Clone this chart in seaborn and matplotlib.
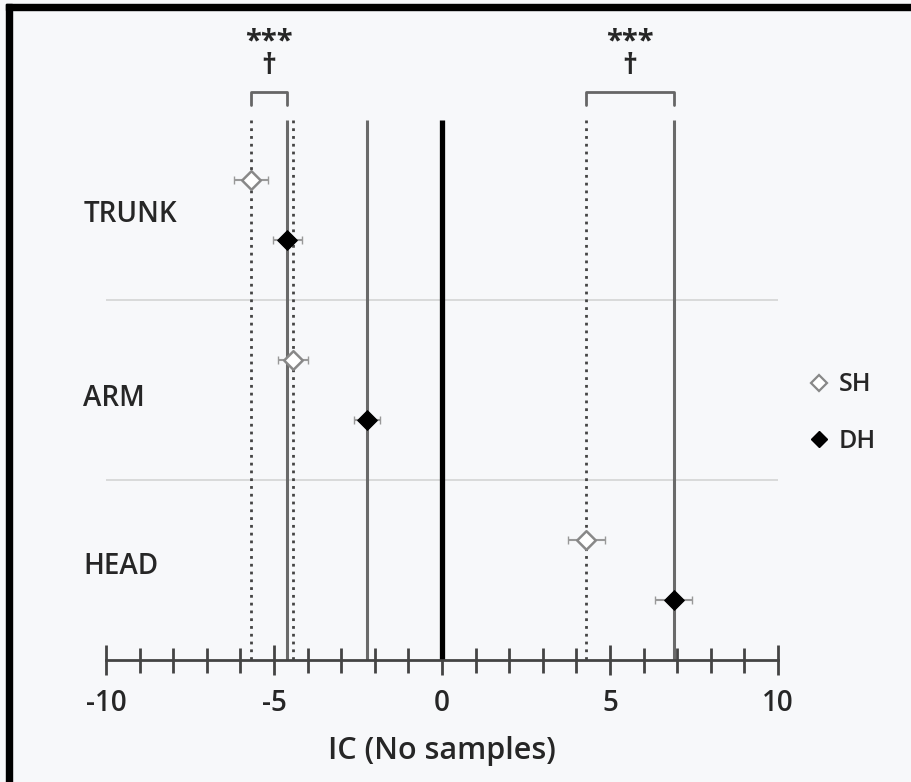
import matplotlib
matplotlib.use("Agg")
import matplotlib.pyplot as plt
import seaborn as sns
import pandas as pd
from matplotlib.patches import Rectangle
from matplotlib.lines import Line2D

regions = ["TRUNK", "ARM", "HEAD"]
groups = ["SH", "DH"]
sh_mean = [-5.68, -4.43, 4.29]
sh_err = [0.50, 0.45, 0.55]
dh_mean = [-4.61, -2.23, 6.90]
dh_err = [0.43, 0.38, 0.55]
sig_label = "***\n\u2020"

rows = []
for i, region in enumerate(regions):
    rows.append({"region": region, "group": "SH", "mean": sh_mean[i], "err": sh_err[i], "ypos": 3 * i})
    rows.append({"region": region, "group": "DH", "mean": dh_mean[i], "err": dh_err[i], "ypos": 3 * i + 1})
df = pd.DataFrame(rows)
sh = df[df["group"] == "SH"]
dh = df[df["group"] == "DH"]

sns.set_style("white")
plt.rcParams["font.family"] = ["Open Sans", "DejaVu Sans"]
bg = "#f7f8fa"

fig = plt.figure(figsize=(9.11, 7.82), dpi=100, facecolor=bg)
ax = fig.add_axes([106 / 911, 122 / 782, 672 / 911, 600 / 782])
ax.set_facecolor(bg)
ax.set_xlim(-10, 10)
ax.set_ylim(8, -2)

# group separators
ax.hlines([2, 5], -10, 10, color="#d4d4d4", lw=1.2, zorder=1)

# mean lines
ax.vlines(sh["mean"], -1, 8, color="#444444", lw=2, linestyles=(0, (1, 1.8)), zorder=2)
ax.vlines(dh["mean"], -1, 8, color="#6a6a6a", lw=2.2, zorder=2)
ax.vlines([0], -1, 8, color="black", lw=3.8, zorder=2)

# error bars
ax.errorbar(sh["mean"], sh["ypos"], xerr=sh["err"], fmt="none", ecolor="#999999", elinewidth=1.5, capsize=3, zorder=3)
ax.errorbar(dh["mean"], dh["ypos"], xerr=dh["err"], fmt="none", ecolor="#999999", elinewidth=1.5, capsize=3, zorder=3)

sns.scatterplot(data=sh, x="mean", y="ypos", marker="D", s=90, color="white", edgecolor="#888888", linewidth=1.8, ax=ax, zorder=4)
sns.scatterplot(data=dh, x="mean", y="ypos", marker="D", s=100, color="black", edgecolor="black", ax=ax, zorder=4)

# significance brackets
for a, b in [(sh_mean[0], dh_mean[0]), (sh_mean[2], dh_mean[2])]:
    ax.plot([a, a, b, b], [-1.25, -1.47, -1.47, -1.25], color="#666666", lw=2, clip_on=False, solid_joinstyle="round")
    ax.text((a + b) / 2, -1.77, sig_label, ha="center", va="baseline", multialignment="center",
            linespacing=0.8, fontsize=21, fontweight="bold", clip_on=False)

# region labels
for region, ly in zip(regions, [0.58, 3.65, 6.45]):
    ax.text(-10.68, ly, region, ha="left", va="center", fontsize=20, fontweight="semibold")

ax.set_xticks([-10, -5, 0, 5, 10])
ax.set_xticklabels(["-10", "-5", "0", "5", "10"], fontweight="semibold")
ax.set_xticks(range(-10, 11), minor=True)
ax.tick_params(axis="x", which="both", bottom=True)
ax.tick_params(axis="x", which="major", direction="inout", length=22, width=2, color="#444444", labelsize=20, pad=10)
ax.tick_params(axis="x", which="minor", direction="inout", length=18, width=2, color="#444444")
ax.set_yticks([])
for s in ["top", "left", "right"]:
    ax.spines[s].set_visible(False)
ax.spines["bottom"].set_linewidth(2)
ax.spines["bottom"].set_color("#444444")
ax.set_xlabel("IC (No samples)", fontsize=22, labelpad=13, fontweight="semibold")
ax.set_ylabel("")

handles = [
    Line2D([], [], marker="D", ls="none", markersize=8, markerfacecolor="white", markeredgecolor="#888888", markeredgewidth=1.6),
    Line2D([], [], marker="D", ls="none", markersize=8, color="black"),
]
fig.legend(handles, groups, loc="center left", bbox_to_anchor=(784 / 911, 1 - 413 / 782), frameon=False,
           prop={"weight": "semibold", "size": 18}, labelspacing=1.25, handletextpad=0.3, handlelength=1.0)

# picture frame
fig.patches.append(Rectangle((6 / 911, 1 - 10 / 782), 905 / 911, 6 / 782, transform=fig.transFigure, color="black", zorder=10))
fig.patches.append(Rectangle((6 / 911, 0), 6 / 911, 1 - 4 / 782, transform=fig.transFigure, color="black", zorder=10))

fig.savefig("out.png", dpi=100, facecolor=bg)
